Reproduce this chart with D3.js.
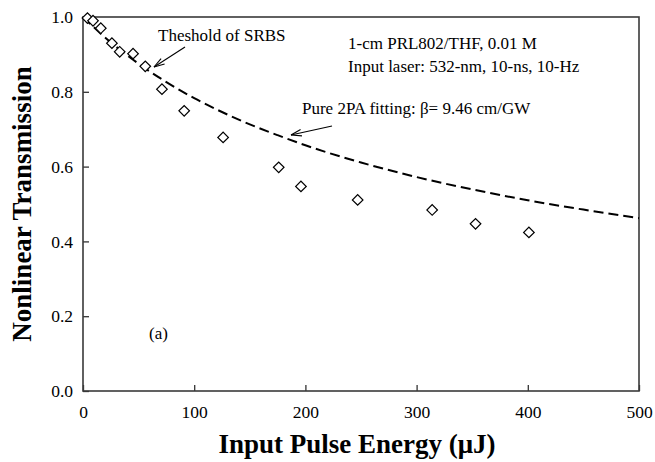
<!DOCTYPE html>
<html>
<head>
<meta charset="utf-8">
<script src="https://cdn.jsdelivr.net/npm/d3@7"></script>
<style>
  body { margin: 0; background: #fff; }
  svg { display: block; font-family: "Liberation Serif", "Times New Roman", serif; }
</style>
</head>
<body>
<div id="chart"></div>
<script>
// Size of the page and the plot frame
const WIDTH = 655, HEIGHT = 462;
const margin = { top: 17, right: 16, bottom: 71, left: 83 };

// Measured points (diamonds)
const energy = [4, 9, 16, 26, 33, 45, 56, 71, 91, 126, 176, 196, 247, 314, 353, 401];
const transmission = [0.997, 0.990, 0.970, 0.930, 0.907, 0.902, 0.868, 0.807, 0.749, 0.678, 0.598, 0.547, 0.511, 0.484, 0.447, 0.424];

// Dashed fitting curve
const fitEnergy = [0, 25, 50, 75, 100, 125, 150, 175, 200, 250, 300, 350, 400, 450, 500];
const fitTransmission = [1.0, 0.932, 0.875, 0.826, 0.783, 0.746, 0.713, 0.684, 0.657, 0.611, 0.572, 0.539, 0.510, 0.485, 0.462];

const xTicks = [0, 100, 200, 300, 400, 500];
const yTicks = [0, 0.2, 0.4, 0.6, 0.8, 1.0];

const svg = d3.select("#chart")
    .append("svg")
    .attr("width", WIDTH)
    .attr("height", HEIGHT);

const x = d3.scaleLinear().domain([0, 500]).range([margin.left, WIDTH - margin.right]);
const y = d3.scaleLinear().domain([0, 1]).range([HEIGHT - margin.bottom, margin.top]);

// Axes, ticks pointing inward
const xAxis = svg.append("g")
    .attr("transform", `translate(0,${y(0)})`)
    .call(d3.axisBottom(x).tickValues(xTicks).tickFormat(d3.format("d"))
        .tickSizeInner(-6).tickSizeOuter(0).tickPadding(15));
const yAxis = svg.append("g")
    .attr("transform", `translate(${x(0)},0)`)
    .call(d3.axisLeft(y).tickValues(yTicks).tickFormat(d3.format(".1f"))
        .tickSizeInner(-6).tickSizeOuter(0).tickPadding(10));

[xAxis, yAxis].forEach(g => {
    g.select(".domain").remove();
    g.selectAll(".tick line").attr("stroke", "#333").attr("stroke-width", 1.3);
    g.selectAll(".tick text")
        .attr("fill", "#000")
        .style("font-family", "'Liberation Serif', serif")
        .style("font-size", "17.5px");
});

// Plot frame
svg.append("rect")
    .attr("x", x(0))
    .attr("y", y(1))
    .attr("width", x(500) - x(0))
    .attr("height", y(0) - y(1))
    .attr("fill", "none")
    .attr("stroke", "#3a3a3a")
    .attr("stroke-width", 1.6);

// Fitting curve
const fitData = fitEnergy.map((e, i) => ({ e: e, t: fitTransmission[i] }));
svg.append("path")
    .datum(fitData)
    .attr("fill", "none")
    .attr("stroke", "#000")
    .attr("stroke-width", 2)
    .attr("stroke-dasharray", "10,5")
    .attr("d", d3.line().x(d => x(d.e)).y(d => y(d.t)).curve(d3.curveMonotoneX));

// Diamonds
const pts = energy.map((e, i) => ({ e: e, t: transmission[i] }));
svg.selectAll("path.pt")
    .data(pts)
    .enter()
    .append("path")
    .attr("class", "pt")
    .attr("d", d3.symbol().type(d3.symbolSquare).size(56))
    .attr("transform", d => `translate(${x(d.e)},${y(d.t)}) rotate(45)`)
    .attr("fill", "#fff")
    .attr("stroke", "#000")
    .attr("stroke-width", 1.2);

// Annotation arrows (open heads)
function arrow(x1, y1, x2, y2) {
    const a = Math.atan2(y2 - y1, x2 - x1);
    const len = 11, spread = 0.3;
    const g = svg.append("g").attr("stroke", "#000").attr("stroke-width", 1.1).attr("fill", "none");
    g.append("line").attr("x1", x1).attr("y1", y1).attr("x2", x2).attr("y2", y2);
    [a + Math.PI - spread, a + Math.PI + spread].forEach(b => {
        g.append("line")
            .attr("x1", x2).attr("y1", y2)
            .attr("x2", x2 + len * Math.cos(b))
            .attr("y2", y2 + len * Math.sin(b));
    });
}
arrow(185, 47, 154, 67);
arrow(332, 126, 291, 135);

// Texts
const notes = [
    { text: "Theshold of SRBS", x: 158, y: 41 },
    { text: "1-cm PRL802/THF, 0.01 M", x: 348, y: 49 },
    { text: "Input laser: 532-nm, 10-ns, 10-Hz", x: 348, y: 72 },
    { text: "Pure 2PA fitting: \u03B2= 9.46 cm/GW", x: 302, y: 114 },
    { text: "(a)", x: 149, y: 339 }
];
svg.selectAll("text.note")
    .data(notes)
    .enter()
    .append("text")
    .attr("class", "note")
    .attr("x", d => d.x)
    .attr("y", d => d.y)
    .style("font-size", "17px")
    .text(d => d.text);

// Axis titles
svg.append("text")
    .attr("x", (x(0) + x(500)) / 2 - 4)
    .attr("y", 453)
    .attr("text-anchor", "middle")
    .style("font-size", "27px")
    .style("font-weight", "bold")
    .text("Input Pulse Energy (\u03BCJ)");

svg.append("text")
    .attr("transform", `translate(31,${(y(0) + y(1)) / 2}) rotate(-90)`)
    .attr("text-anchor", "middle")
    .style("font-size", "27px")
    .style("font-weight", "bold")
    .text("Nonlinear Transmission");
</script>
</body>
</html>
